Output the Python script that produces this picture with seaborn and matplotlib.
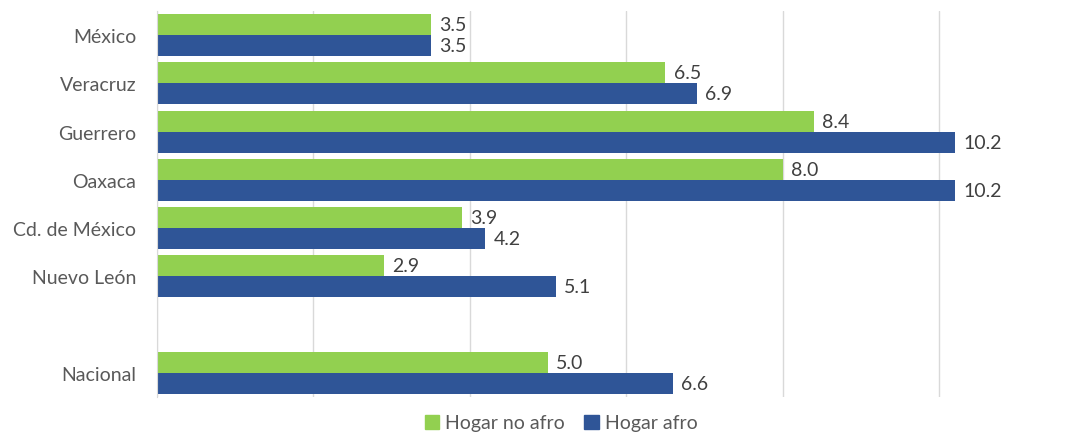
import matplotlib
matplotlib.use("Agg")
import matplotlib.pyplot as plt
import seaborn as sns
import pandas as pd

# Data
estados = ["México", "Veracruz", "Guerrero", "Oaxaca", "Cd. de México", "Nuevo León", "", "Nacional"]
no_afro = [3.5, 6.5, 8.4, 8.0, 3.9, 2.9, None, 5.0]
afro = [3.5, 6.9, 10.2, 10.2, 4.2, 5.1, None, 6.6]
series = ["Hogar no afro", "Hogar afro"]
colores = ["#92D050", "#2F5597"]

rows = []
for est, a, b in zip(estados, no_afro, afro):
    if a is None:
        continue
    rows.append({"estado": est, "serie": series[0], "valor": a})
    rows.append({"estado": est, "serie": series[1], "valor": b})
df = pd.DataFrame(rows)

sns.set_style("white")
plt.rcParams["font.family"] = ["Lato", "DejaVu Sans"]

fig = plt.figure(figsize=(10.74, 4.39), dpi=100)
ax = fig.add_axes([157 / 1074, 1 - 398 / 439, (1045 - 157) / 1074, (398 - 12) / 439])

sns.barplot(data=df, y="estado", x="valor", hue="serie", order=estados,
            hue_order=series, palette=colores, orient="h", width=0.87,
            saturation=1, edgecolor="none", ax=ax, legend=False)

for cont in ax.containers:
    ax.bar_label(cont, fmt="%.1f", padding=6, fontsize=14, color="#404040")

ax.set_xlim(0, (1045 - 157) / 78.2)
ax.set_xticks([0, 2, 4, 6, 8, 10])
ax.set_xticklabels([])
ax.tick_params(axis="x", length=0)
ax.tick_params(axis="y", length=0, labelsize=14, labelcolor="#595959", pad=15)
ax.grid(axis="x", color="#D9D9D9", linewidth=1)
ax.set_axisbelow(True)
ax.set_xlabel("")
ax.set_ylabel("")
for s in ["top", "right", "bottom"]:
    ax.spines[s].set_visible(False)
ax.spines["left"].set_color("#D9D9D9")

handles = [plt.Rectangle((0, 0), 1, 1, color=c) for c in colores]
fig.legend(handles, series, loc="lower center", bbox_to_anchor=(561 / 1074, -0.025),
           ncol=2, frameon=False, fontsize=14, handlelength=0.75, handleheight=0.75,
           handletextpad=0.3, columnspacing=1.0, labelcolor="#595959")

fig.savefig("out.png", dpi=100)
